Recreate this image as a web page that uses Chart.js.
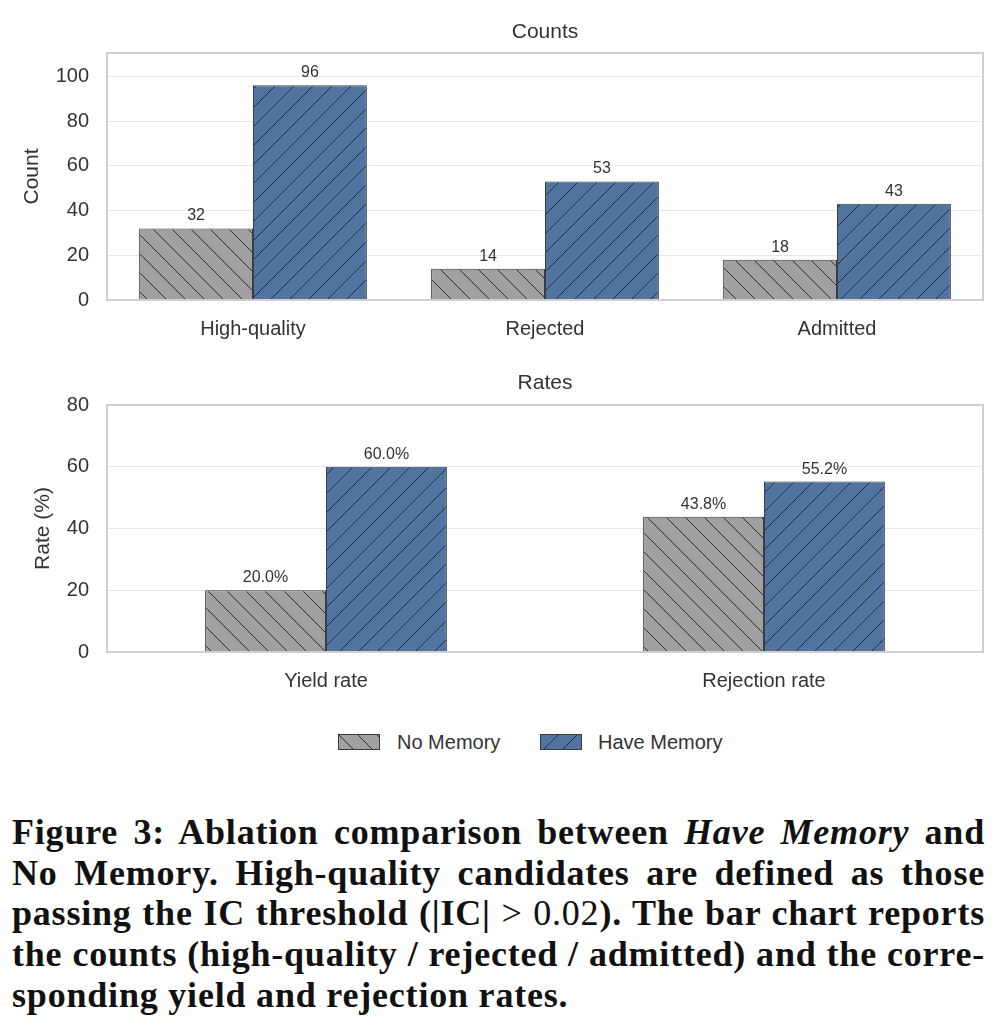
<!DOCTYPE html>
<html>
<head>
<meta charset="utf-8">
<script src="https://cdn.jsdelivr.net/npm/chart.js@4"></script>
<style>
  body { margin: 0; background: #fff; width: 1008px; height: 1028px; position: relative; overflow: hidden; }
  canvas { position: absolute; left: 0; }
  #c1 { top: 0; }
  #c2 { top: 345px; }
  .legend { position: absolute; top: 730px; left: 0; width: 1008px; height: 24px; font-family: "Liberation Sans", Arial, sans-serif; font-size: 20px; color: #333; }
  .legend canvas { position: absolute; top: 4px; }
  .legend span { position: absolute; top: 0; line-height: 24px; }
  .caption { position: absolute; left: 12px; top: 812px; width: 973px; font-family: "Liberation Serif", "Times New Roman", serif; font-weight: bold; font-size: 36px; letter-spacing: 0.8px; color: #111; }
  .caption div { height: 40.7px; line-height: 40.7px; white-space: nowrap; text-align: justify; text-align-last: justify; }
  .caption div.last { text-align-last: left; }
  .caption .m { font-weight: normal; }
</style>
</head>
<body>
<canvas id="c1" width="1008" height="345"></canvas>
<canvas id="c2" width="1008" height="352"></canvas>
<div class="legend">
  <canvas id="sw1" width="42" height="16" style="left:338px"></canvas>
  <span style="left:397px">No Memory</span>
  <canvas id="sw2" width="42" height="16" style="left:540px"></canvas>
  <span style="left:598px">Have Memory</span>
</div>
<div class="caption">
  <div>Figure 3: Ablation comparison between <i>Have Memory</i> and</div>
  <div>No Memory. High-quality candidates are defined as those</div>
  <div>passing the IC threshold (|IC| <span class="m">&gt; 0.02</span>). The bar chart reports</div>
  <div>the counts (high-quality / rejected / admitted) and the corre-</div>
  <div class="last">sponding yield and rejection rates.</div>
</div>
<script>
// data
const countCategories = ['High-quality', 'Rejected', 'Admitted'];
const countsNoMemory = [32, 14, 18];
const countsHaveMemory = [96, 53, 43];

const rateCategories = ['Yield rate', 'Rejection rate'];
const ratesNoMemory = [20.0, 43.8];
const ratesHaveMemory = [60.0, 55.2];

const seriesNames = ['No Memory', 'Have Memory'];

const grayFill = '#a0a0a0';
const blueFill = '#5174a0';
const textColor = '#333333';
const sansFont = '"Liberation Sans", Arial, sans-serif';

function makeHatch(fill, dir) {
    const s = 19;
    const c = document.createElement('canvas');
    c.width = s;
    c.height = s;
    const g = c.getContext('2d');
    g.fillStyle = fill;
    g.fillRect(0, 0, s, s);
    g.strokeStyle = 'rgba(35,35,35,0.9)';
    g.lineWidth = 1;
    g.beginPath();
    for (const o of [-s, 0, s]) {
        if (dir === 'back') {
            g.moveTo(o, 0);
            g.lineTo(o + s, s);
        } else {
            g.moveTo(o, s);
            g.lineTo(o + s, 0);
        }
    }
    g.stroke();
    return g.createPattern(c, 'repeat');
}

const grayHatch = makeHatch(grayFill, 'back');
const blueHatch = makeHatch(blueFill, 'fwd');

// frame around the plot area + value labels above bars
const framePlugin = {
    id: 'frame',
    afterDatasetsDraw(chart, args, opts) {
        const { ctx, chartArea } = chart;
        ctx.save();
        ctx.font = '16px ' + sansFont;
        ctx.fillStyle = textColor;
        ctx.textAlign = 'center';
        ctx.textBaseline = 'alphabetic';
        chart.data.datasets.forEach((ds, i) => {
            chart.getDatasetMeta(i).data.forEach((bar, j) => {
                ctx.fillText(opts.fmt(ds.data[j]), bar.x, bar.y - 8);
            });
        });
        ctx.strokeStyle = '#cfcfcf';
        ctx.lineWidth = 2;
        ctx.strokeRect(chartArea.left, chartArea.top, chartArea.right - chartArea.left, chartArea.bottom - chartArea.top);
        ctx.restore();
    }
};

function makeChart(id, cfg) {
    return new Chart(document.getElementById(id), {
        type: 'bar',
        data: {
            labels: cfg.labels,
            datasets: [{
                label: seriesNames[0],
                data: cfg.a,
                backgroundColor: grayHatch,
                borderColor: '#3a3a3a',
                borderWidth: 1,
                categoryPercentage: cfg.catPct,
                barPercentage: 1
            }, {
                label: seriesNames[1],
                data: cfg.b,
                backgroundColor: blueHatch,
                borderColor: '#34404f',
                borderWidth: 1,
                categoryPercentage: cfg.catPct,
                barPercentage: 1
            }]
        },
        options: {
            responsive: false,
            animation: false,
            layout: { padding: { left: 0, right: 25, top: 0, bottom: 0 } },
            plugins: {
                legend: { display: false },
                tooltip: { enabled: false },
                title: {
                    display: true,
                    fullSize: false,
                    text: cfg.title,
                    color: textColor,
                    font: { family: sansFont, size: 21, weight: 'normal' },
                    padding: cfg.titlePad
                },
                frame: { fmt: cfg.fmt }
            },
            scales: {
                x: {
                    grid: { display: false },
                    border: { display: false },
                    ticks: { color: textColor, font: { family: sansFont, size: 20 }, padding: 9 },
                    afterFit: s => { s.height = 45; }
                },
                y: {
                    min: 0,
                    max: cfg.max,
                    grid: { color: '#e6e6e6', lineWidth: 1, drawTicks: false },
                    border: { display: false },
                    ticks: { stepSize: 20, includeBounds: false, color: textColor, font: { family: sansFont, size: 20 }, padding: 18 },
                    title: {
                        display: true,
                        text: cfg.yTitle,
                        color: textColor,
                        font: { family: sansFont, size: 21 },
                        padding: { top: cfg.yTitlePad, bottom: 0 }
                    },
                    afterFit: s => { s.width = 107; }
                }
            }
        },
        plugins: [framePlugin]
    });
}

makeChart('c1', {
    labels: countCategories,
    a: countsNoMemory,
    b: countsHaveMemory,
    title: 'Counts',
    titlePad: { top: 19.4, bottom: 8.4 },
    yTitle: 'Count',
    yTitlePad: 20,
    max: 110.4,
    catPct: 0.78,
    fmt: v => String(v)
});

makeChart('c2', {
    labels: rateCategories,
    a: ratesNoMemory,
    b: ratesHaveMemory,
    title: 'Rates',
    titlePad: { top: 25.4, bottom: 9.4 },
    yTitle: 'Rate (%)',
    yTitlePad: 31,
    max: 80,
    catPct: 0.552,
    fmt: v => v.toFixed(1) + '%'
});

// legend swatches
[['sw1', grayHatch], ['sw2', blueHatch]].forEach(([id, pat]) => {
    const g = document.getElementById(id).getContext('2d');
    g.fillStyle = pat;
    g.fillRect(0, 0, 42, 16);
    g.strokeStyle = '#3a3a3a';
    g.lineWidth = 1;
    g.strokeRect(0.5, 0.5, 41, 15);
});
</script>
</body>
</html>
